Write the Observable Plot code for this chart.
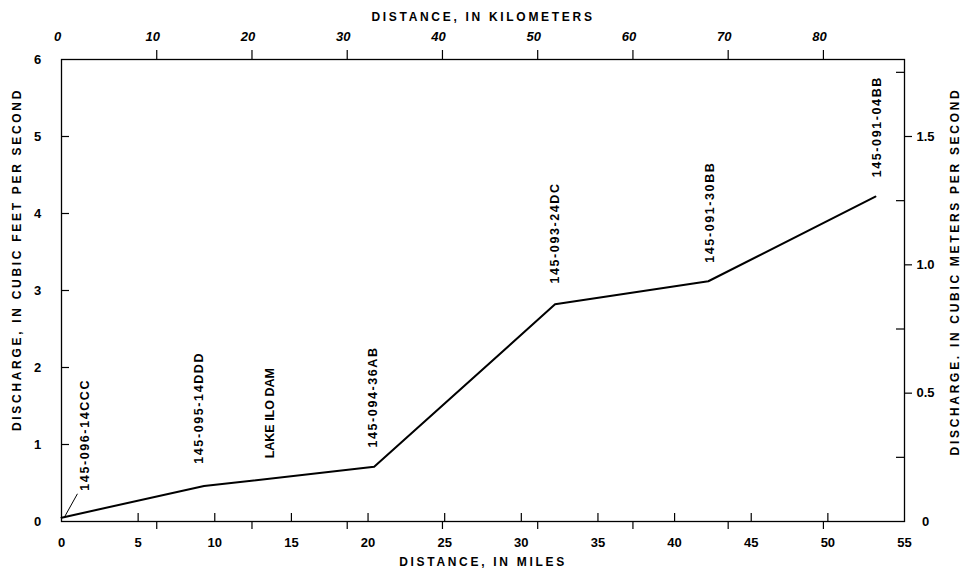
<!DOCTYPE html>
<html><head><meta charset="utf-8">
<script src="https://cdn.jsdelivr.net/npm/d3@7"></script>
<script src="https://cdn.jsdelivr.net/npm/@observablehq/plot@0.6"></script>
<style>body{margin:0;background:#fff}</style>
</head><body><div id="chart"></div>
<script>
// Stations along the river (distance in miles, discharge in cubic feet per second)
const stations = ["145-096-14CCC", "145-095-14DDD", "145-094-36AB", "145-093-24DC", "145-091-30BB", "145-091-04BB"];
const miles = [0, 9.3, 20.4, 32.2, 42.2, 53.1];
const discharge = [0.05, 0.46, 0.71, 2.82, 3.12, 4.22];

// Label anchor points (miles, cfs) for the vertical labels
const labelTexts = ["145-096-14CCC", "145-095-14DDD", "LAKE ILO DAM", "145-094-36AB", "145-093-24DC", "145-091-30BB", "145-091-04BB"];
const labelMiles = [1.55, 9.0, 13.6, 20.35, 32.2, 42.3, 53.2];
const labelCfs = [0.40, 0.75, 0.82, 0.96, 3.09, 3.36, 4.47];

// Leader line from first label to its station
const leaderMiles = [0.2, 1.04];
const leaderCfs = [0.06, 0.36];

// Axis ticks
const mileTicks = [0, 5, 10, 15, 20, 25, 30, 35, 40, 45, 50, 55];
const kmTicks = [0, 10, 20, 30, 40, 50, 60, 70, 80];
const cfsTicks = [0, 1, 2, 3, 4, 5, 6];
const cmsLabels = [0, 0.5, 1.0, 1.5];
const cmsLabelText = ["0", "0.5", "1.0", "1.5"];
const cmsMinor = [0.25, 0.75, 1.25, 1.75];
const KM_PER_MILE = 1.609344;
const CMS_PER_CFS = 0.3;

const titleTop = ["DISTANCE, IN KILOMETERS"];
const titleBottom = ["DISTANCE, IN MILES"];
const titleLeft = ["DISCHARGE, IN CUBIC FEET PER SECOND"];
const titleRight = ["DISCHARGE. IN CUBIC METERS PER SECOND"];

const data = stations.map((s, i) => ({station: s, mile: miles[i], cfs: discharge[i]}));
const labels = labelTexts.map((t, i) => ({text: t, mile: labelMiles[i], cfs: labelCfs[i]}));

const W = 961, H = 574, mL = 61, mR = 57, mT = 59, mB = 53;
const pW = W - mL - mR, pH = H - mT - mB;
const font = {fontWeight: "bold", fill: "black"};

const chart = Plot.plot({
  width: W, height: H,
  marginLeft: mL, marginRight: mR, marginTop: mT, marginBottom: mB,
  x: {domain: [0, 55], axis: null},
  y: {domain: [0, 6], axis: null},
  style: {fontFamily: "'Liberation Sans', Arial, sans-serif", fontSize: "12px", background: "white"},
  marks: [
    Plot.frame({stroke: "black", strokeWidth: 1.3}),
    // bottom mile ticks (inward)
    Plot.tickX(mileTicks.slice(1, -1), {x: d => d, insetTop: pH - 8, stroke: "black", strokeWidth: 1.2}),
    // bottom km ticks (outward)
    Plot.tickX(kmTicks.slice(1), {x: d => d / KM_PER_MILE, insetTop: pH, insetBottom: -8, stroke: "black", strokeWidth: 1.2}),
    // top km ticks (outward)
    Plot.tickX(kmTicks.slice(1), {x: d => d / KM_PER_MILE, insetTop: -9, insetBottom: pH, stroke: "black", strokeWidth: 1.2}),
    // left cfs ticks (inward)
    Plot.tickY(cfsTicks.slice(1, -1), {y: d => d, insetRight: pW - 8, stroke: "black", strokeWidth: 1.2}),
    // right cms ticks
    Plot.tickY(cmsLabels.slice(1), {y: d => d / CMS_PER_CFS, insetLeft: pW, insetRight: -8, stroke: "black", strokeWidth: 1.2}),
    Plot.tickY(cmsMinor, {y: d => d / CMS_PER_CFS, insetLeft: pW - 8, stroke: "black", strokeWidth: 1.2}),
    // data line
    Plot.line(data, {x: "mile", y: "cfs", stroke: "black", strokeWidth: 2}),
    // leader line
    Plot.link([0], {x1: () => leaderMiles[0], y1: () => leaderCfs[0], x2: () => leaderMiles[1], y2: () => leaderCfs[1], stroke: "black", strokeWidth: 1}),
    // station labels
    Plot.text(labels, {x: "mile", y: "cfs", text: "text", rotate: -90, textAnchor: "start", fontSize: 12.5, ...font}),
    // tick labels
    Plot.text(mileTicks, {x: d => d, text: d => String(d), frameAnchor: "bottom", dy: 25, fontSize: 13, ...font}),
    Plot.text(kmTicks, {x: d => d / KM_PER_MILE, text: d => String(d), frameAnchor: "top", dx: -4, dy: -28, fontSize: 13, fontStyle: "italic", ...font}),
    Plot.text(cfsTicks, {y: d => d, text: d => String(d), frameAnchor: "left", textAnchor: "middle", dx: -24, fontSize: 13, ...font}),
    Plot.text(cmsLabels, {y: d => d / CMS_PER_CFS, text: (d, i) => cmsLabelText[i], frameAnchor: "right", textAnchor: "middle", dx: 21, fontSize: 13, ...font}),
    // axis titles
    Plot.text(titleTop, {text: d => d, frameAnchor: "top", textAnchor: "middle", dy: -47, fontSize: 12, ...font}),
    Plot.text(titleBottom, {text: d => d, frameAnchor: "bottom", textAnchor: "middle", dy: 44, fontSize: 12, ...font}),
    Plot.text(titleLeft, {text: d => d, frameAnchor: "left", textAnchor: "middle", dx: -44, dy: -31, rotate: -90, fontSize: 12, ...font}),
    Plot.text(titleRight, {text: d => d, frameAnchor: "right", textAnchor: "middle", dx: 51, dy: -19, rotate: -90, fontSize: 12, ...font})
  ]
});
// letter spacing for titles and station codes
const titles = new Set([...titleTop, ...titleBottom, ...titleLeft, ...titleRight]);
const codes = new Set(stations);
d3.select(chart).selectAll("text").each(function() {
  const t = this.textContent;
  if (titles.has(t)) this.setAttribute("letter-spacing", "2.7px");
  else if (codes.has(t)) this.setAttribute("letter-spacing", "1.6px");
});
document.getElementById("chart").appendChild(chart);
</script>
</body></html>
